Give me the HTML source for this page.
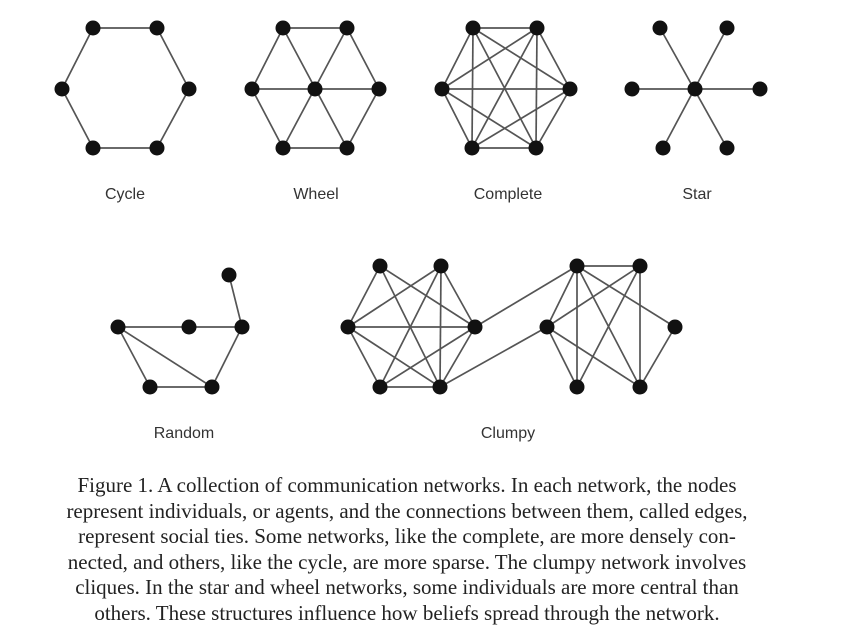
<!DOCTYPE html>
<html><head><meta charset="utf-8"><style>
html,body{margin:0;padding:0;background:#fff;width:868px;height:634px;overflow:hidden}
svg{position:absolute;left:0;top:0}
.cap{position:absolute;left:-93px;top:473px;width:1000px;text-align:center;font-family:"Liberation Serif",serif;font-size:21px;line-height:25.6px;color:#222}
</style></head><body>
<svg width="868" height="634" xmlns="http://www.w3.org/2000/svg">
<g stroke="#555" stroke-width="1.7" fill="none">
<polygon points="93,28 157,28 189,89 157,148 93,148 62,89"/>
<polygon points="283,28 347,28 379,89 347,148 283,148 252,89"/>
<line x1="283" y1="28" x2="347" y2="148"/><line x1="347" y1="28" x2="283" y2="148"/><line x1="252" y1="89" x2="379" y2="89"/>
<polygon points="473,28 537,28 570,89 536,148 472,148 442,89"/>
<line x1="473" y1="28" x2="570" y2="89"/><line x1="473" y1="28" x2="536" y2="148"/><line x1="473" y1="28" x2="472" y2="148"/>
<line x1="537" y1="28" x2="442" y2="89"/><line x1="537" y1="28" x2="472" y2="148"/><line x1="537" y1="28" x2="536" y2="148"/>
<line x1="442" y1="89" x2="570" y2="89"/><line x1="442" y1="89" x2="536" y2="148"/><line x1="570" y1="89" x2="472" y2="148"/>
<line x1="660" y1="28" x2="727" y2="148"/><line x1="727" y1="28" x2="663" y2="148"/><line x1="632" y1="89" x2="760" y2="89"/>
<line x1="118" y1="327" x2="242" y2="327"/><line x1="242" y1="327" x2="229" y2="275"/><line x1="242" y1="327" x2="212" y2="387"/>
<line x1="118" y1="327" x2="212" y2="387"/><line x1="118" y1="327" x2="150" y2="387"/><line x1="150" y1="387" x2="212" y2="387"/>
<line x1="380" y1="266" x2="348" y2="327"/><line x1="380" y1="266" x2="475" y2="327"/><line x1="380" y1="266" x2="440" y2="387"/>
<line x1="441" y1="266" x2="348" y2="327"/><line x1="441" y1="266" x2="475" y2="327"/><line x1="441" y1="266" x2="380" y2="387"/><line x1="441" y1="266" x2="440" y2="387"/>
<line x1="348" y1="327" x2="475" y2="327"/><line x1="348" y1="327" x2="380" y2="387"/><line x1="348" y1="327" x2="440" y2="387"/>
<line x1="475" y1="327" x2="380" y2="387"/><line x1="475" y1="327" x2="440" y2="387"/><line x1="380" y1="387" x2="440" y2="387"/>
<line x1="475" y1="327" x2="577" y2="266"/><line x1="440" y1="387" x2="547" y2="327"/>
<line x1="577" y1="266" x2="640" y2="266"/><line x1="577" y1="266" x2="547" y2="327"/><line x1="577" y1="266" x2="577" y2="387"/><line x1="577" y1="266" x2="640" y2="387"/><line x1="577" y1="266" x2="675" y2="327"/>
<line x1="640" y1="266" x2="547" y2="327"/><line x1="640" y1="266" x2="577" y2="387"/><line x1="640" y1="266" x2="640" y2="387"/>
<line x1="547" y1="327" x2="577" y2="387"/><line x1="547" y1="327" x2="640" y2="387"/><line x1="675" y1="327" x2="640" y2="387"/>
</g>
<g fill="#111">
<circle cx="93" cy="28" r="7.5"/><circle cx="157" cy="28" r="7.5"/><circle cx="62" cy="89" r="7.5"/><circle cx="189" cy="89" r="7.5"/><circle cx="93" cy="148" r="7.5"/><circle cx="157" cy="148" r="7.5"/>
<circle cx="283" cy="28" r="7.5"/><circle cx="347" cy="28" r="7.5"/><circle cx="252" cy="89" r="7.5"/><circle cx="315" cy="89" r="7.5"/><circle cx="379" cy="89" r="7.5"/><circle cx="283" cy="148" r="7.5"/><circle cx="347" cy="148" r="7.5"/>
<circle cx="473" cy="28" r="7.5"/><circle cx="537" cy="28" r="7.5"/><circle cx="442" cy="89" r="7.5"/><circle cx="570" cy="89" r="7.5"/><circle cx="472" cy="148" r="7.5"/><circle cx="536" cy="148" r="7.5"/>
<circle cx="660" cy="28" r="7.5"/><circle cx="727" cy="28" r="7.5"/><circle cx="632" cy="89" r="7.5"/><circle cx="695" cy="89" r="7.5"/><circle cx="760" cy="89" r="7.5"/><circle cx="663" cy="148" r="7.5"/><circle cx="727" cy="148" r="7.5"/>
<circle cx="118" cy="327" r="7.5"/><circle cx="189" cy="327" r="7.5"/><circle cx="242" cy="327" r="7.5"/><circle cx="229" cy="275" r="7.5"/><circle cx="150" cy="387" r="7.5"/><circle cx="212" cy="387" r="7.5"/>
<circle cx="380" cy="266" r="7.5"/><circle cx="441" cy="266" r="7.5"/><circle cx="348" cy="327" r="7.5"/><circle cx="475" cy="327" r="7.5"/><circle cx="380" cy="387" r="7.5"/><circle cx="440" cy="387" r="7.5"/>
<circle cx="577" cy="266" r="7.5"/><circle cx="640" cy="266" r="7.5"/><circle cx="547" cy="327" r="7.5"/><circle cx="675" cy="327" r="7.5"/><circle cx="577" cy="387" r="7.5"/><circle cx="640" cy="387" r="7.5"/>
</g>
<g font-family="Liberation Sans, sans-serif" font-size="16" fill="#333" text-anchor="middle">
<text x="125" y="199">Cycle</text><text x="316" y="199">Wheel</text><text x="508" y="199">Complete</text><text x="697" y="199">Star</text>
<text x="184" y="438">Random</text><text x="508" y="438">Clumpy</text>
</g>
</svg>
<div class="cap">Figure 1. A collection of communication networks. In each network, the nodes<br>represent individuals, or agents, and the connections between them, called edges,<br>represent social ties. Some networks, like the complete, are more densely con-<br>nected, and others, like the cycle, are more sparse. The clumpy network involves<br>cliques. In the star and wheel networks, some individuals are more central than<br>others. These structures influence how beliefs spread through the network.</div>
</body></html>
